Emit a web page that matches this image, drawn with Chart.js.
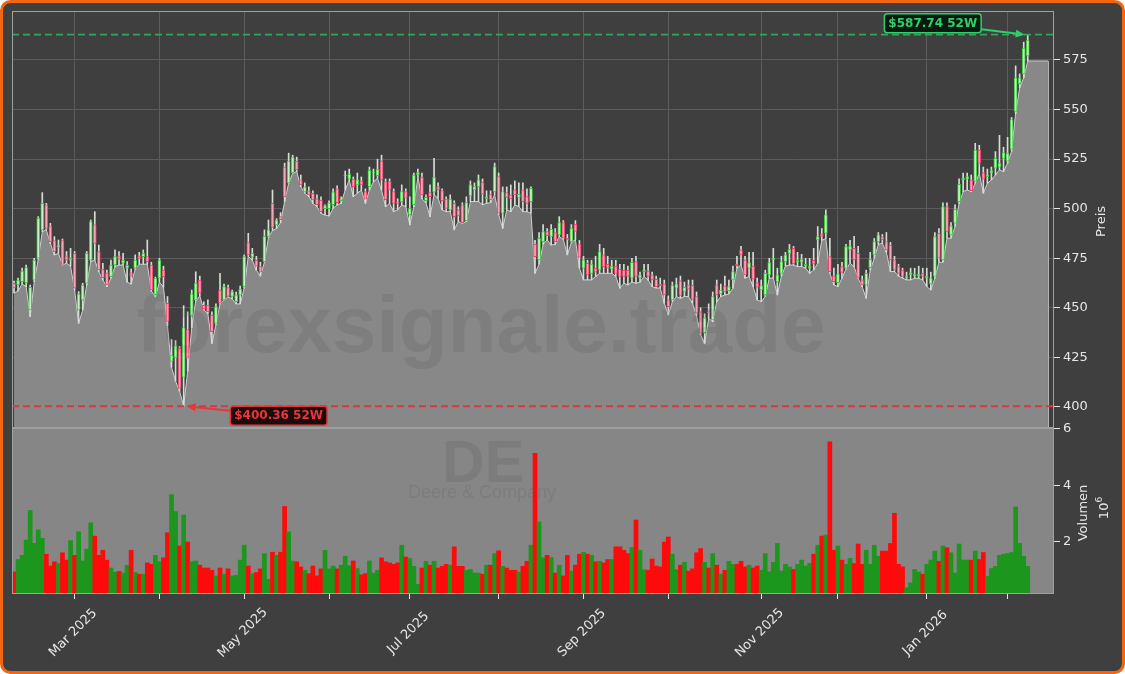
<!DOCTYPE html>
<html>
<head>
<meta charset="utf-8">
<script src="https://cdn.jsdelivr.net/npm/chart.js@4.4.1/dist/chart.umd.min.js"></script>
<style>
  html, body { margin: 0; padding: 0; background: #ffffff; }
  canvas { display: block; }
</style>
</head>
<body>
<canvas id="chart" width="1125" height="674"></canvas>
<script>
// trading calendar (NYSE days between first and last session)
const firstDay = '2025-02-07';
const lastDay = '2026-02-09';
const holidays = ['2025-02-17', '2025-04-18', '2025-05-26', '2025-06-19', '2025-07-04',
  '2025-09-01', '2025-11-27', '2025-12-25', '2026-01-01', '2026-01-19'];
const padSlots = ['', '', '', '', '', ''];
const xTickLabels = ['Mar 2025', 'May 2025', 'Jul 2025', 'Sep 2025', 'Nov 2025', 'Jan 2026'];
const priceTicks = [400, 425, 450, 475, 500, 525, 550, 575];
const volumeTicks = [2, 4, 6];

const opens = [
  462.4, 461.5, 463.2, 462.7, 449.0, 464.0, 475.0, 489.3, 501.9, 491.3,
  483.9, 480.5, 483.9, 476.2, 474.0, 477.5, 449.0, 454.0, 462.4, 474.1,
  491.8, 478.4, 469.4, 467.7, 465.7, 471.6, 476.2, 472.5, 470.0, 467.7,
  470.0, 476.2, 475.8, 475.8, 471.6, 456.5, 464.9, 469.1, 452.3, 423.0,
  425.0, 429.6, 415.0, 439.0, 446.0, 454.0, 464.0, 451.4, 451.4, 446.4,
  442.2, 459.0, 454.0, 460.2, 455.7, 453.1, 456.5, 460.7, 482.9, 475.5,
  474.0, 471.0, 473.3, 486.0, 502.7, 491.8, 496.0, 521.0, 513.0, 518.0,
  524.0, 514.5, 508.5, 509.0, 507.7, 505.0, 504.4, 500.0, 500.0, 502.0,
  510.0, 504.0, 516.5, 515.0, 514.9, 512.0, 514.0, 508.6, 511.1, 518.0,
  516.6, 524.0, 513.7, 513.7, 508.6, 503.5, 503.6, 508.6, 497.0, 502.0,
  517.0, 515.9, 504.0, 508.1, 508.3, 511.1, 509.1, 504.8, 499.4, 502.7,
  499.4, 501.9, 493.9, 506.4, 509.5, 511.1, 513.3, 505.0, 507.4, 508.6,
  516.2, 497.7, 508.1, 507.0, 509.5, 505.7, 509.5, 506.1, 503.6, 482.2,
  474.2, 483.4, 488.5, 486.0, 488.0, 486.8, 493.0, 485.1, 483.4, 492.2,
  482.2, 470.0, 472.5, 467.4, 470.0, 469.1, 476.7, 472.0, 469.5, 471.1,
  469.5, 469.1, 469.1, 464.9, 473.3, 464.9, 468.3, 468.6, 466.6, 464.4,
  462.0, 462.1, 454.0, 454.0, 459.9, 463.7, 458.2, 461.6, 461.4, 455.7,
  448.0, 437.5, 448.1, 443.9, 461.6, 457.0, 461.0, 458.7, 464.1, 472.1,
  479.2, 474.2, 470.0, 471.1, 462.7, 459.0, 456.5, 466.6, 474.2, 463.2,
  467.4, 473.3, 477.5, 480.0, 473.0, 473.0, 471.0, 470.0, 474.0, 484.3,
  487.3, 487.6, 475.8, 466.1, 462.7, 470.8, 470.0, 479.2, 480.0, 477.5,
  464.1, 461.6, 470.3, 476.7, 483.4, 485.9, 483.4, 481.7, 474.2, 470.8,
  469.1, 465.0, 466.6, 466.0, 466.0, 467.4, 465.0, 462.0, 465.8, 487.6,
  474.2, 501.1, 486.8, 492.7, 503.6, 514.5, 514.9, 514.5, 513.7, 529.6,
  518.2, 516.2, 517.9, 520.4, 521.0, 525.4, 524.0, 530.0, 549.0, 563.0,
  568.0, 577.0
];
const highs = [
  463.5, 465.0, 470.0, 471.6, 461.5, 475.0, 496.0, 508.1, 502.7, 492.6,
  485.9, 484.2, 484.7, 478.4, 480.0, 478.4, 458.2, 462.4, 478.4, 494.3,
  498.5, 481.7, 472.5, 469.1, 474.1, 479.2, 478.4, 477.5, 473.3, 469.5,
  476.7, 478.0, 479.2, 484.2, 473.0, 465.5, 475.0, 471.0, 455.7, 434.0,
  433.5, 430.5, 451.1, 448.0, 459.0, 468.2, 466.0, 453.0, 454.0, 448.0,
  452.0, 467.4, 462.0, 461.5, 459.0, 458.0, 461.0, 476.7, 487.6, 480.0,
  476.0, 473.0, 489.3, 494.3, 509.4, 495.0, 498.0, 523.0, 528.0, 527.0,
  526.0, 517.0, 513.0, 511.0, 509.0, 507.0, 506.0, 502.0, 504.0, 510.0,
  511.5, 506.0, 519.0, 520.0, 516.0, 518.0, 516.0, 510.0, 521.0, 520.0,
  525.0, 527.0, 515.0, 515.0, 510.0, 505.0, 512.0, 510.0, 506.0, 518.0,
  520.0, 518.0, 507.0, 512.0, 525.4, 513.0, 510.0, 506.0, 507.0, 504.0,
  501.0, 503.0, 506.0, 514.0, 513.0, 517.0, 515.0, 509.0, 509.0, 523.0,
  518.0, 511.0, 511.0, 512.0, 514.0, 513.0, 513.0, 510.0, 511.0, 484.0,
  488.0, 492.0, 490.0, 492.0, 490.0, 496.0, 494.0, 487.0, 492.0, 494.0,
  484.0, 476.0, 474.0, 474.0, 476.0, 482.0, 480.0, 476.0, 474.0, 474.0,
  472.0, 472.0, 471.0, 475.0, 476.0, 468.0, 472.0, 472.0, 468.0, 466.0,
  465.0, 464.0, 456.0, 463.0, 465.0, 466.0, 463.0, 464.0, 464.0, 458.0,
  450.0, 447.0, 452.0, 458.0, 464.0, 462.0, 466.0, 464.0, 471.0, 476.0,
  481.0, 476.0, 478.0, 478.0, 465.0, 464.0, 469.0, 475.0, 480.0, 470.0,
  476.0, 478.0, 482.0, 481.0, 478.0, 477.0, 475.0, 475.0, 480.0, 491.0,
  490.0, 499.4, 485.0, 470.0, 472.0, 473.0, 482.0, 484.0, 486.0, 481.0,
  466.0, 469.0, 478.0, 485.0, 488.0, 487.0, 488.0, 483.0, 476.0, 472.0,
  470.0, 468.0, 470.0, 470.0, 471.0, 470.0, 470.0, 468.0, 488.0, 490.0,
  503.0, 503.0, 493.0, 502.0, 515.0, 518.0, 518.0, 517.0, 533.0, 532.0,
  521.0, 520.0, 521.0, 528.8, 537.0, 531.0, 536.0, 546.0, 572.0, 568.0,
  584.0, 587.74
];
const lows = [
  457.5, 458.5, 462.0, 460.7, 445.6, 463.2, 474.5, 488.4, 489.3, 482.5,
  476.7, 477.5, 471.6, 472.5, 471.0, 459.0, 442.2, 449.0, 461.5, 473.3,
  474.1, 468.2, 464.0, 460.7, 464.9, 470.8, 471.6, 471.6, 463.0, 462.0,
  469.5, 472.0, 472.0, 472.0, 458.5, 455.5, 463.0, 460.5, 441.0, 420.0,
  413.0, 408.0, 400.36, 418.0, 440.0, 453.5, 456.0, 449.0, 447.0, 432.0,
  441.5, 452.0, 454.0, 455.5, 454.5, 452.0, 452.0, 460.0, 476.0, 474.0,
  469.0, 466.0, 473.0, 485.5, 489.0, 490.0, 493.0, 503.6, 512.8, 517.9,
  518.7, 511.1, 507.8, 506.1, 502.7, 501.0, 497.7, 496.8, 496.3, 500.2,
  501.9, 502.7, 509.4, 514.5, 506.1, 507.8, 509.4, 502.7, 509.4, 513.6,
  515.3, 509.4, 501.0, 502.7, 498.5, 499.4, 501.9, 501.0, 491.8, 501.0,
  516.0, 505.0, 503.0, 496.0, 507.0, 505.3, 499.4, 498.5, 498.5, 489.3,
  493.5, 492.7, 493.5, 503.6, 503.6, 503.6, 502.0, 502.7, 503.0, 507.0,
  497.0, 490.1, 499.4, 498.5, 501.9, 501.1, 498.5, 498.5, 497.7, 467.4,
  472.0, 482.0, 484.3, 481.7, 482.0, 485.9, 484.5, 476.7, 483.0, 484.3,
  470.0, 464.1, 464.1, 464.1, 465.8, 467.4, 467.4, 467.4, 467.4, 465.8,
  459.9, 462.4, 461.6, 463.0, 462.4, 463.0, 465.8, 464.0, 460.7, 460.0,
  460.0, 452.3, 446.4, 453.1, 455.7, 454.8, 455.7, 455.7, 452.3, 446.0,
  436.5, 432.1, 444.7, 443.0, 453.1, 455.7, 456.5, 457.0, 459.9, 470.0,
  471.6, 465.0, 465.8, 460.7, 454.0, 453.1, 455.7, 465.0, 465.0, 456.5,
  466.0, 471.0, 471.6, 471.6, 470.8, 470.8, 470.0, 467.4, 469.1, 472.5,
  484.0, 485.0, 467.4, 461.6, 460.7, 465.0, 469.5, 472.5, 470.8, 464.9,
  460.7, 454.8, 469.0, 475.0, 482.0, 482.6, 478.0, 468.3, 468.3, 466.0,
  465.0, 464.1, 464.1, 464.9, 464.9, 464.1, 460.7, 459.0, 465.0, 473.0,
  473.0, 485.1, 485.1, 491.0, 502.7, 508.6, 509.5, 508.6, 512.8, 517.9,
  507.8, 512.8, 514.5, 517.0, 519.6, 518.7, 523.0, 529.0, 548.0, 561.0,
  566.0, 574.5
];
const closes = [
  460.0, 464.0, 468.6, 470.3, 460.4, 474.1, 495.2, 502.7, 490.1, 483.4,
  478.3, 481.7, 471.9, 474.1, 475.0, 459.9, 457.0, 461.5, 477.5, 493.5,
  482.5, 469.1, 465.2, 461.5, 471.6, 475.8, 474.5, 474.1, 471.5, 466.0,
  474.1, 474.9, 477.5, 473.3, 459.0, 464.9, 474.1, 465.7, 443.1, 426.2,
  431.0, 409.4, 440.0, 425.0, 457.0, 462.5, 457.5, 449.5, 448.0, 438.0,
  450.6, 452.3, 460.7, 455.7, 458.2, 456.5, 459.4, 475.8, 476.7, 477.5,
  471.0, 468.0, 486.0, 489.3, 490.6, 494.3, 494.5, 506.0, 524.0, 526.0,
  519.5, 512.0, 511.0, 507.0, 504.4, 502.0, 498.5, 501.5, 503.0, 508.5,
  503.0, 505.0, 517.0, 517.5, 511.1, 514.5, 512.0, 504.8, 519.4, 518.5,
  519.9, 514.5, 504.5, 509.5, 502.7, 502.7, 508.6, 505.3, 500.0, 517.0,
  518.2, 507.0, 505.7, 506.1, 515.9, 509.5, 504.1, 500.2, 504.8, 496.0,
  496.4, 493.0, 503.1, 512.0, 511.1, 514.5, 507.3, 506.0, 504.4, 521.2,
  497.7, 508.6, 505.7, 505.0, 507.0, 507.3, 503.6, 502.7, 510.3, 475.8,
  485.1, 488.5, 486.4, 489.6, 483.4, 493.0, 485.1, 484.3, 490.1, 488.5,
  475.5, 474.2, 466.6, 472.1, 468.0, 478.4, 470.8, 470.0, 471.0, 467.4,
  465.8, 465.8, 465.8, 473.0, 465.8, 466.6, 469.1, 465.8, 464.1, 460.7,
  461.0, 456.5, 450.6, 461.4, 462.1, 456.2, 460.4, 459.4, 454.3, 447.3,
  437.2, 445.0, 447.3, 455.7, 456.5, 459.0, 458.0, 460.7, 468.3, 471.1,
  476.7, 466.6, 472.8, 464.4, 460.4, 461.2, 467.4, 472.8, 475.0, 466.6,
  473.3, 476.7, 479.5, 472.1, 474.0, 474.5, 472.0, 471.0, 472.0, 485.9,
  486.0, 496.9, 468.3, 463.2, 467.1, 467.8, 480.9, 481.2, 474.2, 465.4,
  461.6, 467.4, 474.5, 483.4, 486.8, 484.3, 479.2, 474.2, 469.1, 467.4,
  465.8, 466.0, 467.8, 467.0, 467.0, 465.8, 466.0, 465.0, 485.9, 475.0,
  501.1, 488.5, 491.3, 499.7, 512.3, 515.3, 516.2, 509.1, 529.6, 522.9,
  514.9, 517.0, 519.2, 525.4, 523.0, 528.3, 528.0, 545.0, 566.0, 566.0,
  581.0, 585.0
];
// volume in millions of shares
const volumes = [
  0.93, 1.37, 1.52, 2.06, 3.11, 1.94, 2.42, 2.12, 1.56, 1.14,
  1.29, 1.23, 1.61, 1.35, 2.04, 1.52, 2.35, 1.32, 1.74, 2.67,
  2.20, 1.52, 1.70, 1.35, 1.07, 0.92, 0.95, 0.89, 1.17, 1.70,
  0.91, 0.85, 0.85, 1.25, 1.20, 1.52, 1.29, 1.43, 2.32, 3.67,
  3.07, 1.85, 2.95, 1.99, 1.29, 1.32, 1.17, 1.07, 1.07, 0.99,
  0.79, 1.07, 0.85, 1.04, 0.79, 0.81, 1.35, 1.88, 1.14, 0.87,
  0.91, 1.04, 1.58, 0.67, 1.63, 1.52, 1.63, 3.25, 2.35, 1.31,
  1.29, 1.11, 0.99, 0.87, 1.14, 0.79, 1.04, 1.70, 1.04, 1.14,
  1.04, 1.17, 1.49, 1.15, 1.32, 1.05, 0.83, 0.87, 1.32, 0.89,
  0.99, 1.43, 1.29, 1.25, 1.20, 1.25, 1.88, 1.46, 1.41, 1.13,
  0.49, 1.07, 1.31, 1.17, 1.31, 1.07, 1.13, 1.20, 1.17, 1.82,
  1.13, 1.13, 0.99, 1.02, 0.89, 0.89, 0.85, 1.17, 1.17, 1.58,
  1.68, 1.13, 1.07, 0.99, 0.99, 0.93, 1.13, 1.31, 1.88, 5.13,
  2.70, 1.43, 1.52, 1.44, 0.89, 1.17, 0.79, 1.52, 0.96, 1.17,
  1.56, 1.62, 1.56, 1.52, 1.29, 1.31, 1.25, 1.37, 1.37, 1.82,
  1.82, 1.70, 1.58, 1.80, 2.77, 1.70, 1.01, 0.99, 1.39, 1.14,
  1.11, 1.99, 2.17, 1.56, 1.01, 1.17, 1.27, 0.96, 1.04, 1.61,
  1.76, 1.27, 1.07, 1.58, 1.17, 0.85, 0.99, 1.31, 1.20, 1.20,
  1.31, 1.11, 1.17, 1.07, 1.14, 0.99, 1.58, 0.93, 1.27, 1.94,
  0.96, 1.20, 1.11, 1.02, 1.20, 1.35, 1.14, 1.23, 1.56, 1.88,
  2.20, 2.24, 5.54, 1.70, 1.85, 1.35, 1.20, 1.41, 1.23, 1.92,
  1.20, 1.70, 1.20, 1.88, 1.49, 1.67, 1.67, 1.94, 3.01, 1.20,
  1.11, 0.37, 0.54, 1.02, 0.93, 0.85, 1.20, 1.35, 1.67, 1.31,
  1.85, 1.79, 1.61, 0.89, 1.92, 1.35, 1.35, 1.35, 1.67, 1.37,
  1.62, 0.77, 1.05, 1.13, 1.52, 1.56, 1.58, 1.62, 3.23, 1.94,
  1.49, 1.13
];
// the shaded low-line keeps running flat past the last session
const lowTail = [574.5, 574.5, 574.5, 574.5, 574.5];

function tradingDays(from, to, skip) {
  const out = [];
  const d = new Date(from + 'T12:00:00Z');
  const end = new Date(to + 'T12:00:00Z');
  while (d <= end) {
    const s = d.toISOString().slice(0, 10);
    const wd = d.getUTCDay();
    if (wd !== 0 && wd !== 6 && !skip.includes(s)) out.push(s);
    d.setUTCDate(d.getUTCDate() + 1);
  }
  return out;
}

const days = tradingDays(firstDay, lastDay, holidays);
const labels = days.concat(padSlots);
const monthNames = ['Jan', 'Feb', 'Mar', 'Apr', 'May', 'Jun', 'Jul', 'Aug', 'Sep', 'Oct', 'Nov', 'Dec'];
const monthStarts = [];
for (let i = 1; i < days.length; i++) {
  if (days[i].slice(5, 7) !== days[i - 1].slice(5, 7)) monthStarts.push(i);
}
function monthLabel(i) {
  const s = days[i];
  return monthNames[parseInt(s.slice(5, 7), 10) - 1] + ' ' + s.slice(0, 4);
}

const isUp = closes.map((c, i) => c >= opens[i]);
const wickData = lows.map((l, i) => [l, highs[i]]);
const bodyData = opens.map((o, i) => [o, closes[i]]);
const areaData = lows.concat(lowTail);

const FONT = '"DejaVu Sans", sans-serif';
const TEXT = '#e6e6e6';

function arrow(ctx, x0, y0, x1, y1, color) {
  const ang = Math.atan2(y1 - y0, x1 - x0);
  const hl = 9, hw = 4;
  ctx.save();
  ctx.strokeStyle = color;
  ctx.fillStyle = color;
  ctx.lineWidth = 2;
  ctx.beginPath();
  ctx.moveTo(x0, y0);
  ctx.lineTo(x1 - Math.cos(ang) * hl, y1 - Math.sin(ang) * hl);
  ctx.stroke();
  ctx.beginPath();
  ctx.moveTo(x1, y1);
  ctx.lineTo(x1 - Math.cos(ang) * hl - Math.sin(ang) * hw, y1 - Math.sin(ang) * hl + Math.cos(ang) * hw);
  ctx.lineTo(x1 - Math.cos(ang) * hl + Math.sin(ang) * hw, y1 - Math.sin(ang) * hl - Math.cos(ang) * hw);
  ctx.closePath();
  ctx.fill();
  ctx.restore();
}

function callout(ctx, px, py, dx, dy, text, color, bg) {
  ctx.save();
  ctx.font = 'bold 12px ' + FONT;
  const w = ctx.measureText(text).width + 8;
  const h = 19;
  const cx = px + dx, cy = py + dy;
  arrow(ctx, cx, cy, px + (dx > 0 ? 3 : -3), py, color);
  ctx.beginPath();
  ctx.roundRect(cx - w / 2, cy - h / 2, w, h, 3);
  ctx.fillStyle = bg;
  ctx.fill();
  ctx.lineWidth = 1.5;
  ctx.strokeStyle = color;
  ctx.stroke();
  ctx.fillStyle = color;
  ctx.textAlign = 'center';
  ctx.textBaseline = 'middle';
  ctx.fillText(text, cx, cy + 0.5);
  ctx.restore();
}

const panels = {
  id: 'panels',
  beforeDraw(chart) {
    const ctx = chart.ctx;
    ctx.save();
    ctx.fillStyle = '#ffffff';
    ctx.fillRect(0, 0, chart.width, chart.height);
    ctx.beginPath();
    ctx.roundRect(1.5, 1.5, chart.width - 3, chart.height - 3, 9);
    ctx.fillStyle = '#3f3f3f';
    ctx.fill();
    ctx.restore();
  },
  beforeDatasetsDraw(chart) {
    const {ctx, chartArea: a, scales} = chart;
    ctx.save();
    ctx.fillStyle = '#868686';
    ctx.fillRect(a.left, scales.yv.top, a.right - a.left, scales.yv.bottom - scales.yv.top);
    ctx.restore();
  },
  afterDatasetsDraw(chart) {
    const {ctx, chartArea: a, scales} = chart;
    const x = scales.x, y = scales.y, yv = scales.yv;
    ctx.save();

    // right edge of the shaded low area
    const edgeX = x.getPixelForValue(areaData.length - 1);
    ctx.strokeStyle = '#bdbdbd';
    ctx.lineWidth = 1;
    ctx.beginPath();
    ctx.moveTo(edgeX + 0.5, y.getPixelForValue(areaData[areaData.length - 1]));
    ctx.lineTo(edgeX + 0.5, y.bottom);
    ctx.stroke();

    // watermark
    ctx.fillStyle = 'rgba(60,60,60,0.13)';
    ctx.textAlign = 'center';
    ctx.textBaseline = 'alphabetic';
    ctx.font = 'bold 80px "Liberation Sans", sans-serif';
    ctx.fillText('forexsignale.trade', 481, 352);
    ctx.font = 'bold 59px "Liberation Sans", sans-serif';
    ctx.fillText('DE', 483, 482);
    ctx.font = '18px "Liberation Sans", sans-serif';
    ctx.fillText('Deere & Company', 482, 498);

    // 52 week high / low lines
    const hi = Math.max(...highs), lo = Math.min(...lows);
    const hiY = y.getPixelForValue(hi), loY = y.getPixelForValue(lo);
    ctx.lineWidth = 1.8;
    ctx.setLineDash([7, 4]);
    ctx.strokeStyle = '#33a65a';
    ctx.beginPath(); ctx.moveTo(a.left, hiY); ctx.lineTo(a.right, hiY); ctx.stroke();
    ctx.strokeStyle = '#d23c3c';
    ctx.beginPath(); ctx.moveTo(a.left, loY); ctx.lineTo(a.right, loY); ctx.stroke();
    ctx.setLineDash([]);

    // panel frames
    ctx.strokeStyle = '#a0a0a0';
    ctx.lineWidth = 1;
    ctx.strokeRect(a.left + 0.5, y.top + 0.5, a.right - a.left - 1, y.bottom - y.top - 1);
    ctx.strokeRect(a.left + 0.5, yv.top + 0.5, a.right - a.left - 1, yv.bottom - yv.top - 1);

    // callouts
    const hiX = x.getPixelForValue(highs.indexOf(hi));
    const loX = x.getPixelForValue(lows.indexOf(lo));
    callout(ctx, hiX, hiY, -95, -11.5, '$' + hi.toFixed(2) + ' 52W', '#2fcf6a', '#0b1a10');
    callout(ctx, loX, loY, 95, 9.5, '$' + lo.toFixed(2) + ' 52W', '#e8363a', '#1c0b0b');
    ctx.restore();
  },
  afterDraw(chart) {
    const {ctx, scales} = chart;
    const x = scales.x, y = scales.y, yv = scales.yv;
    ctx.save();
    ctx.fillStyle = TEXT;
    ctx.font = '13px ' + FONT;
    ctx.textAlign = 'center';
    ctx.textBaseline = 'middle';
    // x tick labels, rotated 45 degrees and centred under the tick
    monthStarts.forEach(i => {
      const lab = monthLabel(i);
      if (!xTickLabels.includes(lab)) return;
      ctx.save();
      ctx.translate(x.getPixelForValue(i) - 1.5, 633);
      ctx.rotate(-Math.PI / 4);
      ctx.fillText(lab, 0, 0);
      ctx.restore();
    });
    // axis titles
    ctx.save();
    ctx.translate(1102, (y.top + y.bottom) / 2 + 2);
    ctx.rotate(-Math.PI / 2);
    ctx.fillText('Preis', 0, 0);
    ctx.restore();
    ctx.save();
    ctx.translate(1084, (yv.top + yv.bottom) / 2 + 2);
    ctx.rotate(-Math.PI / 2);
    ctx.fillText('Volumen', 0, 0);
    ctx.restore();
    ctx.save();
    ctx.translate(1104, 508);
    ctx.rotate(-Math.PI / 2);
    ctx.textAlign = 'left';
    const w10 = ctx.measureText('10').width;
    ctx.font = '9px ' + FONT;
    const w6 = ctx.measureText('6').width;
    const start = -(w10 + w6) / 2;
    ctx.font = '13px ' + FONT;
    ctx.fillText('10', start, 1);
    ctx.font = '9px ' + FONT;
    ctx.fillText('6', start + w10, -4);
    ctx.restore();
    // outer orange frame
    ctx.beginPath();
    ctx.roundRect(1.5, 1.5, chart.width - 3, chart.height - 3, 9);
    ctx.lineWidth = 3;
    ctx.strokeStyle = '#f26511';
    ctx.stroke();
    ctx.restore();
  }
};

new Chart(document.getElementById('chart'), {
  type: 'bar',
  data: {
    labels: labels,
    datasets: [
      {
        type: 'line',
        label: 'Tief',
        data: areaData,
        yAxisID: 'y',
        fill: 'start',
        backgroundColor: '#888888',
        borderColor: '#cfcfcf',
        borderWidth: 1,
        pointRadius: 0,
        tension: 0,
        order: 5
      },
      {
        label: 'Volumen',
        data: volumes,
        yAxisID: 'yv',
        backgroundColor: isUp.map(u => u ? '#1c961c' : '#ff0a0a'),
        barPercentage: 1,
        categoryPercentage: 1,
        grouped: false,
        order: 4
      },
      {
        label: 'Docht',
        data: wickData,
        yAxisID: 'y',
        backgroundColor: '#d4ddd4',
        barThickness: 1,
        grouped: false,
        order: 3
      },
      {
        label: 'Kerze',
        data: bodyData,
        yAxisID: 'y',
        backgroundColor: isUp.map(u => u ? '#c9efc9' : '#f5a7b9'),
        borderColor: isUp.map(u => u ? '#3fc83f' : '#e6456c'),
        borderWidth: 1,
        borderSkipped: false,
        barThickness: 3,
        grouped: false,
        order: 2
      }
    ]
  },
  options: {
    responsive: false,
    animation: false,
    events: [],
    layout: { padding: { left: 12, top: 11, right: 11, bottom: 10 } },
    plugins: { legend: { display: false }, tooltip: { enabled: false } },
    scales: {
      x: {
        offset: true,
        grid: { offset: false, color: '#5c5c5c', tickColor: TEXT, tickLength: 5 },
        border: { display: false },
        ticks: { display: false, autoSkip: false },
        afterBuildTicks: s => { s.ticks = monthStarts.map(i => ({ value: i })); },
        afterFit: s => { s.height = 70; }
      },
      y: {
        position: 'right',
        stack: 'panels',
        stackWeight: 417,
        min: 389.4,
        max: 599.7,
        grid: { color: '#5c5c5c', tickColor: TEXT, tickLength: 6 },
        border: { display: false },
        ticks: { color: TEXT, padding: 3, font: { family: FONT, size: 13 } },
        afterBuildTicks: s => { s.ticks = priceTicks.map(v => ({ value: v })); },
        afterFit: s => { s.width = 60; }
      },
      yv: {
        position: 'right',
        stack: 'panels',
        stackWeight: 166,
        min: 0.15,
        max: 6.03,
        grid: { drawOnChartArea: false, tickColor: TEXT, tickLength: 6 },
        border: { display: false },
        ticks: { color: TEXT, padding: 3, font: { family: FONT, size: 13 } },
        afterBuildTicks: s => { s.ticks = volumeTicks.map(v => ({ value: v })); },
        afterFit: s => { s.width = 60; }
      }
    }
  },
  plugins: [panels]
});
</script>
</body>
</html>
